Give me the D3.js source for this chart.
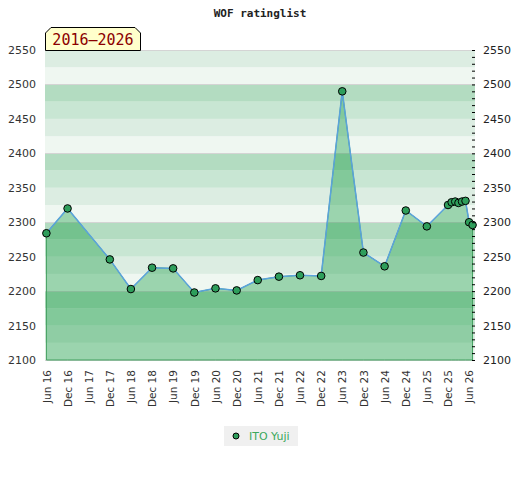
<!DOCTYPE html>
<html lang="en">
<head>
	<meta charset="utf-8">
	<title>WOF ratinglist</title>
	<script type="text/javascript" src="https://cdn.jsdelivr.net/npm/d3@7"></script>
	<style>
		body { margin: 0; background-color: #ffffff; }
		text { font-family: "DejaVu Sans", sans-serif; }
	</style>
</head>
<body>
	<div id="chart"></div>
	<script>
	// rating list dates and values for ITO Yuji
	var dates = ["2016-06", "2016-12", "2017-12", "2018-06", "2018-12", "2019-06", "2019-12",
		"2020-06", "2020-12", "2021-06", "2021-12", "2022-06", "2022-12", "2023-06", "2023-12",
		"2024-06", "2024-12", "2025-06", "2025-12", "2026-01", "2026-02", "2026-03", "2026-04",
		"2026-05", "2026-06", "2026-07"];
	var ratings = [2284, 2320, 2246, 2203, 2234, 2233, 2198, 2204, 2201, 2216, 2221, 2223, 2222,
		2490, 2256, 2236, 2317, 2294, 2325, 2329, 2330, 2328, 2330, 2331, 2300, 2296];
	var xTicks = ["2016-06", "2016-12", "2017-06", "2017-12", "2018-06", "2018-12", "2019-06",
		"2019-12", "2020-06", "2020-12", "2021-06", "2021-12", "2022-06", "2022-12", "2023-06",
		"2023-12", "2024-06", "2024-12", "2025-06", "2025-12", "2026-06"];
	var yTicks = [2100, 2150, 2200, 2250, 2300, 2350, 2400, 2450, 2500, 2550];
	var playerName = "ITO Yuji";
	var periodLabel = "2016\u20132026";
	var chartTitle = "WOF ratinglist";

	var parse = d3.timeParse("%Y-%m");
	var bandColors = {0: "#eff7f1", 25: "#dcede2", 50: "#c8e6d3", 75: "#b3dcc1"};

	// plot box
	var pLeft = 45, pRight = 475, pTop = 50, pBottom = 360;

	var svg = d3.select("#chart")
		.append("svg")
		.attr("width", 520)
		.attr("height", 480);

	var x = d3.scaleTime()
		.domain([new Date(2016, 4, 20), new Date(2026, 6, 22)])
		.range([pLeft, pRight]);
	var y = d3.scaleLinear()
		.domain([2100, 2550])
		.range([pBottom, pTop]);

	// background bands, 25 points each
	svg.append("g").selectAll("rect")
		.data(d3.range(2100, 2550, 25))
		.enter().append("rect")
		.attr("x", pLeft)
		.attr("width", pRight - pLeft)
		.attr("y", function(d) { return y(d + 25); })
		.attr("height", function(d) { return y(d) - y(d + 25); })
		.attr("fill", function(d) { return bandColors[d % 100]; });

	var gridVals = d3.range(2100, 2551, 100).concat([2550]);
	svg.append("g").selectAll("line")
		.data(gridVals)
		.enter().append("line")
		.attr("x1", pLeft).attr("x2", pRight)
		.attr("y1", function(d) { return Math.round(y(d)) + 0.5; })
		.attr("y2", function(d) { return Math.round(y(d)) + 0.5; })
		.attr("stroke", "#d4d4d4");

	var pts = dates.map(function(d, i) { return {date: parse(d), value: ratings[i]}; });

	var area = d3.area()
		.x(function(d) { return x(d.date); })
		.y0(y(2100))
		.y1(function(d) { return y(d.value); });
	svg.append("path")
		.datum(pts)
		.attr("d", area)
		.attr("fill", "rgba(0,145,50,0.35)")
		.attr("stroke", "#3f9e5c")
		.attr("stroke-width", 1);

	var line = d3.line()
		.x(function(d) { return x(d.date); })
		.y(function(d) { return y(d.value); });
	svg.append("path")
		.datum(pts)
		.attr("d", line)
		.attr("fill", "none")
		.attr("stroke", "#5ba3dc")
		.attr("stroke-width", 1.5);

	svg.append("g").selectAll("circle")
		.data(pts)
		.enter().append("circle")
		.attr("cx", function(d) { return x(d.date); })
		.attr("cy", function(d) { return y(d.value); })
		.attr("r", 3.8)
		.attr("fill", "#2e9e5b")
		.attr("stroke", "#000")
		.attr("stroke-width", 1);

	// left axis
	var gl = svg.append("g")
		.attr("transform", "translate(" + pLeft + ",0)")
		.call(d3.axisLeft(y).tickValues(yTicks).tickSize(0).tickPadding(9).tickFormat(d3.format("d")));
	gl.select(".domain").remove();
	gl.selectAll("text").attr("fill", "#333").style("font-size", "11px");

	// right axis with minor ticks
	var gr = svg.append("g")
		.attr("transform", "translate(" + pRight + ",0)")
		.call(d3.axisRight(y).tickValues(yTicks).tickSize(0).tickPadding(8).tickFormat(d3.format("d")));
	gr.select(".domain").remove();
	gr.selectAll("text").attr("fill", "#222").style("font-size", "11px");

	var gm = svg.append("g")
		.attr("transform", "translate(" + pRight + ",0)")
		.call(d3.axisRight(y).tickValues(d3.range(2100, 2551, 10)).tickSize(-3).tickFormat(""));
	gm.select(".domain").remove();
	gm.selectAll("line").attr("stroke", "#000");

	// bottom axis
	var gx = svg.append("g")
		.attr("transform", "translate(0," + pBottom + ")")
		.call(d3.axisBottom(x).tickValues(xTicks.map(parse)).tickSize(0).tickFormat(d3.timeFormat("%b %y")));
	gx.select(".domain").remove();
	gx.selectAll("text")
		.attr("transform", "rotate(-90)")
		.attr("x", -10)
		.attr("y", 0)
		.attr("dy", "0.35em")
		.attr("fill", "#333")
		.style("text-anchor", "end")
		.style("font-size", "10.5px");

	// title
	svg.append("text")
		.attr("x", 260)
		.attr("y", 17)
		.attr("text-anchor", "middle")
		.style("font-family", "'DejaVu Sans Mono', monospace")
		.style("font-weight", "bold")
		.style("font-size", "11px")
		.attr("fill", "#222")
		.text(chartTitle);

	// period tag
	svg.append("path")
		.attr("d", "M45.5,50.5 L45.5,33 L51,27.5 L135,27.5 L140.5,33 L140.5,50.5 Z")
		.attr("fill", "#ffffcc")
		.attr("stroke", "#000")
		.attr("stroke-width", 1);
	svg.append("text")
		.attr("x", 93)
		.attr("y", 45)
		.attr("text-anchor", "middle")
		.style("font-family", "'DejaVu Sans Mono', monospace")
		.style("font-size", "15px")
		.attr("fill", "#8b0000")
		.text(periodLabel);

	// legend
	var lg = svg.append("g");
	lg.append("rect")
		.attr("x", 224).attr("y", 426)
		.attr("width", 74).attr("height", 20)
		.attr("fill", "#f0f0f0");
	lg.append("circle")
		.attr("cx", 236).attr("cy", 436)
		.attr("r", 3)
		.attr("fill", "#2e9e5b")
		.attr("stroke", "#000");
	lg.append("text")
		.attr("x", 249).attr("y", 440)
		.style("font-size", "11px")
		.attr("fill", "#3aa85c")
		.text(playerName);
	</script>
</body>
</html>
